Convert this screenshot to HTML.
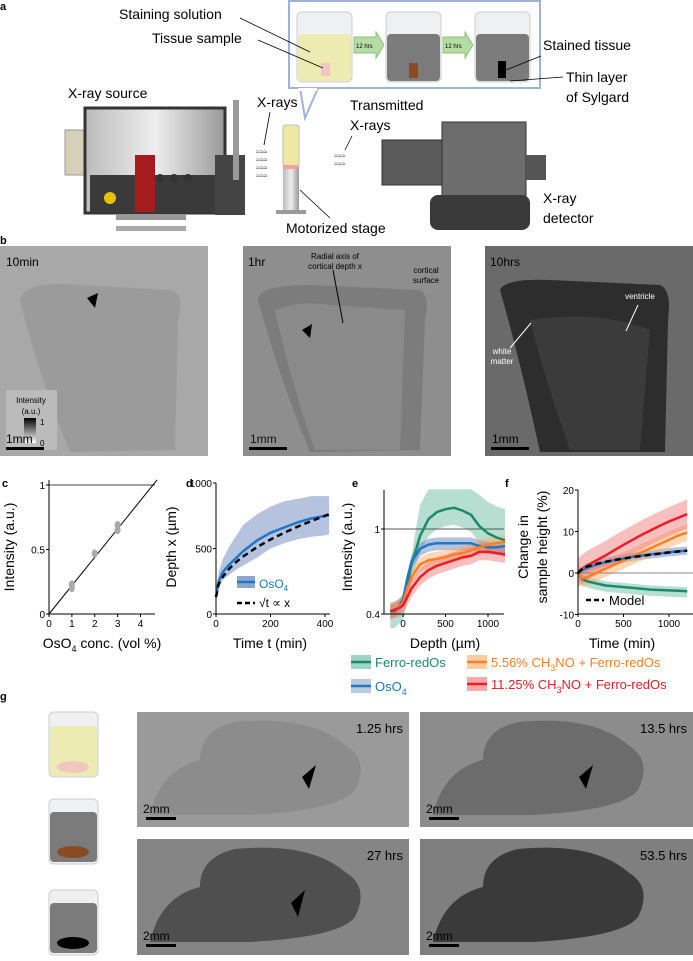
<!DOCTYPE html>
<html><head><meta charset="utf-8"><style>
body{margin:0;background:#fff;width:693px;height:956px;overflow:hidden;font-family:"Liberation Sans",sans-serif}
svg text{font-family:"Liberation Sans",sans-serif}
</style></head><body>
<svg id="fig" width="693" height="956" viewBox="0 0 693 956" xmlns="http://www.w3.org/2000/svg">
<defs>
<linearGradient id="cbar" x1="0" y1="0" x2="0" y2="1"><stop offset="0" stop-color="#000"/><stop offset="1" stop-color="#fff"/></linearGradient>
<linearGradient id="tube" x1="0" y1="0" x2="1" y2="0"><stop offset="0" stop-color="#bbb"/><stop offset=".5" stop-color="#eee"/><stop offset="1" stop-color="#999"/></linearGradient>
</defs>
<!-- panel a -->
<g>
<text x="0" y="10" font-size="11" font-weight="bold">a</text>
<rect x="289" y="1" width="251" height="87" fill="#fff" stroke="#9fb3d8" stroke-width="2"/>
<path d="M300 88 L305 118 L318 88" fill="#fff" stroke="#9fb3d8" stroke-width="2"/>
<rect x="298" y="88" width="19" height="3" fill="#fff"/>
<rect x="297" y="12" width="55" height="70" rx="5" fill="#eef0f2" stroke="#ccc"/>
<rect x="298" y="34" width="53" height="47" rx="4" fill="#ecebb2"/>
<rect x="321" y="63" width="9" height="13" fill="#f3c6c2"/>
<polygon points="354,37 376,37 376,32 384,45 376,58 376,53 354,53" fill="#b5dca3" stroke="#8bc27a"/><text x="356" y="48" font-size="6">12 hrs</text>
<rect x="386" y="12" width="55" height="70" rx="5" fill="#eef0f2" stroke="#ccc"/>
<rect x="387" y="34" width="53" height="47" rx="4" fill="#7b7b7b"/>
<rect x="409" y="63" width="9" height="15" fill="#8a4a22"/>
<polygon points="443,37 465,37 465,32 473,45 465,58 465,53 443,53" fill="#b5dca3" stroke="#8bc27a"/><text x="445" y="48" font-size="6">12 hrs</text>
<rect x="475" y="12" width="55" height="70" rx="5" fill="#eef0f2" stroke="#ccc"/>
<rect x="476" y="34" width="53" height="47" rx="4" fill="#7b7b7b"/>
<rect x="498" y="61" width="8" height="17" fill="#000"/>
<text x="119" y="19" font-size="14">Staining solution</text>
<line x1="240" y1="18" x2="310" y2="52" stroke="#000" stroke-width=".8"/>
<text x="152" y="43" font-size="14">Tissue sample</text>
<line x1="258" y1="40" x2="323" y2="68" stroke="#000" stroke-width=".8"/>
<text x="543" y="50" font-size="14">Stained tissue</text>
<line x1="541" y1="56" x2="506" y2="70" stroke="#000" stroke-width=".8"/>
<text x="566" y="82" font-size="14">Thin layer</text>
<text x="566" y="102" font-size="14">of Sylgard</text>
<line x1="563" y1="77" x2="510" y2="81" stroke="#000" stroke-width=".8"/>
<text x="68" y="98" font-size="14">X-ray source</text>
<text x="257" y="107" font-size="14">X-rays</text>
<line x1="270" y1="112" x2="264" y2="145" stroke="#000" stroke-width=".8"/>
<text x="350" y="110" font-size="14">Transmitted</text>
<text x="350" y="130" font-size="14">X-rays</text>
<line x1="352" y1="136" x2="345" y2="150" stroke="#000" stroke-width=".8"/>
<text x="286" y="233" font-size="14">Motorized stage</text>
<line x1="300" y1="190" x2="330" y2="218" stroke="#000" stroke-width=".8"/>
<text x="543" y="203" font-size="14">X-ray</text>
<text x="543" y="223" font-size="14">detector</text>
<!-- source -->
<rect x="65" y="130" width="30" height="45" fill="#d7d0b8" stroke="#999"/>
<rect x="85" y="108" width="140" height="105" fill="url(#tube)" stroke="#333" stroke-width="3"/>
<rect x="90" y="175" width="130" height="38" fill="#3a3a3a"/>
<rect x="135" y="155" width="20" height="57" fill="#a51c1c"/>
<circle cx="160" cy="178" r="4" fill="#333"/><circle cx="174" cy="178" r="4" fill="#333"/><circle cx="188" cy="178" r="4" fill="#333"/>
<circle cx="110" cy="198" r="6" fill="#e5c100"/>
<rect x="215" y="155" width="30" height="60" fill="#444"/>
<rect x="233" y="100" width="6" height="80" fill="#999"/>
<rect x="116" y="215" width="70" height="5" fill="#999"/><rect x="116" y="226" width="70" height="5" fill="#aaa"/>
<!-- waves -->
<text x="256" y="154" font-size="7" fill="#444">≈≈≈</text>
<text x="256" y="162" font-size="7" fill="#444">≈≈≈</text>
<text x="256" y="170" font-size="7" fill="#444">≈≈≈</text>
<text x="256" y="178" font-size="7" fill="#444">≈≈≈</text>
<text x="334" y="158" font-size="7" fill="#444">≈≈≈</text>
<text x="334" y="166" font-size="7" fill="#444">≈≈≈</text>
<!-- sample stage -->
<rect x="283" y="125" width="16" height="42" fill="#efe8a0" stroke="#bbb" rx="3"/>
<rect x="283" y="165" width="16" height="4" fill="#f3a0a0"/>
<rect x="283" y="169" width="16" height="41" fill="url(#tube)"/>
<rect x="276" y="210" width="30" height="4" fill="#999"/>
<!-- detector -->
<rect x="382" y="140" width="62" height="45" fill="#5b5b5b" stroke="#333"/>
<rect x="442" y="122" width="84" height="84" fill="#6d6d6d" stroke="#333"/>
<rect x="526" y="155" width="20" height="25" fill="#555"/>
<rect x="430" y="195" width="100" height="35" rx="8" fill="#3a3a3a"/>
</g>
<!-- panel b -->
<g>
<text x="0" y="244" font-size="11" font-weight="bold">b</text>
<rect x="0" y="246" width="208" height="210" fill="#a8a8a8"/>
<path d="M20 300 Q25 280 80 285 L170 290 Q185 292 178 320 L175 450 L70 452 Q40 380 20 300Z" fill="#9b9b9b"/>
<text x="6" y="266" font-size="12">10min</text>
<rect x="6" y="390" width="51" height="60" fill="#bbb"/>
<text x="31" y="403" font-size="8" text-anchor="middle">Intensity</text><text x="31" y="414" font-size="8" text-anchor="middle">(a.u.)</text>
<rect x="24" y="418" width="12" height="25" fill="url(#cbar)"/>
<text x="40" y="425" font-size="8">1</text><text x="40" y="446" font-size="8">0</text>
<polygon points="87,298 98,293 95,308" fill="#000"/>
<text x="6" y="443" font-size="12">1mm</text><rect x="6" y="447" width="38" height="3" fill="#000"/>
<rect x="243" y="246" width="208" height="210" fill="#8e8e8e"/>
<path d="M258 300 Q258 285 310 285 L420 290 Q430 295 425 320 L420 450 L310 452 Q280 380 258 300Z" fill="#7c7c7c"/>
<path d="M275 310 Q300 300 330 305 L405 310 L400 450 L315 450 Q290 380 275 310Z" fill="#8a8a8a"/>
<text x="248" y="266" font-size="12">1hr</text>
<text x="335" y="259" font-size="8" text-anchor="middle">Radial axis of</text>
<text x="335" y="269" font-size="8" text-anchor="middle">cortical depth x</text>
<text x="426" y="273" font-size="8" text-anchor="middle">cortical</text><text x="426" y="283" font-size="8" text-anchor="middle">surface</text>
<polygon points="302,330 312,324 310,338" fill="#000"/>
<line x1="333" y1="270" x2="343" y2="323" stroke="#000"/>
<text x="250" y="443" font-size="12" fill="#111">1mm</text><rect x="249" y="447" width="38" height="3" fill="#000"/>
<rect x="485" y="246" width="208" height="210" fill="#6a6a6a"/>
<path d="M500 290 Q505 278 550 280 L660 285 Q672 290 668 320 L665 452 L540 452 Q520 360 500 290Z" fill="#2d2d2d"/>
<path d="M530 320 Q600 310 650 330 L640 450 L570 450 Q545 380 530 320Z" fill="#3b3b3b"/>
<text x="490" y="266" font-size="12">10hrs</text>
<text x="640" y="299" font-size="8" fill="#fff" text-anchor="middle">ventricle</text>
<text x="502" y="354" font-size="8" fill="#fff" text-anchor="middle">white</text><text x="502" y="364" font-size="8" fill="#fff" text-anchor="middle">matter</text>
<line x1="510" y1="348" x2="531" y2="323" stroke="#fff"/><line x1="638" y1="305" x2="626" y2="331" stroke="#fff"/>
<text x="492" y="443" font-size="12">1mm</text><rect x="491" y="447" width="38" height="3" fill="#000"/>
</g>
<g id="charts"></g>
<!-- panel g -->
<g>
<text x="0" y="700" font-size="11" font-weight="bold">g</text>
<rect x="49" y="712" width="49" height="65" rx="5" fill="#eef0f2" stroke="#ccc"/><rect x="50" y="726" width="47" height="50" rx="4" fill="#ecebb2"/><ellipse cx="73" cy="767" rx="16" ry="6" fill="#f3c6c2"/>
<rect x="49" y="799" width="49" height="65" rx="5" fill="#eef0f2" stroke="#ccc"/><rect x="50" y="812" width="47" height="50" rx="4" fill="#7b7b7b"/><ellipse cx="73" cy="852" rx="16" ry="6" fill="#8a4a22"/>
<rect x="49" y="890" width="49" height="65" rx="5" fill="#eef0f2" stroke="#ccc"/><rect x="50" y="903" width="47" height="50" rx="4" fill="#7b7b7b"/><ellipse cx="73" cy="943" rx="16" ry="6" fill="#000"/>
<g><rect x="137" y="712" width="272" height="115" fill="#9a9a9a"/>
<path d="M150 815 Q160 770 200 760 Q200 730 235 722 Q310 715 345 745 Q370 760 355 790 Q340 810 250 815Z" fill="#8c8c8c"/>
<text x="403" y="733" font-size="13" text-anchor="end">1.25 hrs</text><text x="143" y="813" font-size="12">2mm</text><rect x="146" y="817" width="30" height="3" fill="#000"/><polygon points="302,777 316,765 309,789" fill="#000"/></g>
<g><rect x="420" y="712" width="273" height="115" fill="#8c8c8c"/>
<path d="M433 815 Q443 770 483 760 Q483 730 518 722 Q593 715 628 745 Q653 760 638 790 Q623 810 533 815Z" fill="#6c6c6c"/>
<text x="687" y="733" font-size="13" text-anchor="end">13.5 hrs</text><text x="426" y="813" font-size="12">2mm</text><rect x="429" y="817" width="30" height="3" fill="#000"/><polygon points="579,777 593,765 586,789" fill="#000"/></g>
<g><rect x="137" y="839" width="272" height="116" fill="#858585"/>
<path d="M150 942 Q160 897 200 887 Q200 857 235 849 Q310 842 345 872 Q370 887 355 917 Q340 937 250 942Z" fill="#4f4f4f"/>
<text x="403" y="860" font-size="13" text-anchor="end">27 hrs</text><text x="143" y="940" font-size="12">2mm</text><rect x="146" y="944" width="30" height="3" fill="#000"/><polygon points="291,903 305,890 298,917" fill="#000"/></g>
<g><rect x="420" y="839" width="273" height="116" fill="#7f7f7f"/>
<path d="M433 942 Q443 897 483 887 Q483 857 518 849 Q593 842 628 872 Q653 887 638 917 Q623 937 533 942Z" fill="#3a3a3a"/>
<text x="687" y="860" font-size="13" text-anchor="end">53.5 hrs</text><text x="426" y="940" font-size="12">2mm</text><rect x="429" y="944" width="30" height="3" fill="#000"/></g>
</g>
</svg>
<script>
const cConc=[1,1,2,3,3], cInt=[0.2,0.23,0.47,0.65,0.69], cSlope=0.22;
const cTicksX=[0,1,2,3,4], cTicksY=[0,0.5,1];
const dTime=[0,10,25,50,75,100,150,200,250,300,350,400,415];
const dMean=[130,250,320,380,430,480,560,620,660,700,730,750,755];
const dHi=[150,320,420,520,600,680,760,820,860,880,900,900,900];
const dLo=[120,200,260,300,340,370,430,500,540,570,590,600,610];
const dModelA=130, dModelB=31;
const dTicksX=[0,200,400], dTicksY=[0,500,1000];
const eDepth=[-150,-100,-50,0,50,100,200,300,400,500,600,700,800,900,1000,1100,1200];
const eGreen=[0.42,0.42,0.45,0.48,0.6,0.75,0.95,1.07,1.12,1.14,1.15,1.13,1.1,1.02,0.97,0.94,0.92];
const eBlue=[0.42,0.43,0.45,0.5,0.65,0.77,0.86,0.89,0.9,0.9,0.9,0.9,0.9,0.88,0.87,0.87,0.88];
const eOrange=[0.42,0.43,0.45,0.48,0.58,0.66,0.75,0.78,0.79,0.8,0.82,0.83,0.85,0.87,0.89,0.9,0.91];
const eRed=[0.42,0.43,0.44,0.46,0.52,0.58,0.66,0.71,0.74,0.76,0.78,0.8,0.81,0.84,0.84,0.83,0.82];
const eTicksX=[0,500,1000], eTicksY=[0.4,1];
const fTime=[0,50,100,200,300,400,500,600,700,800,900,1000,1100,1200];
const fGreen=[0,-1.5,-2,-2.5,-3,-3.2,-3.4,-3.6,-3.8,-4,-4.1,-4.2,-4.3,-4.4];
const fBlue=[0,0.7,1.2,2,2.6,3.1,3.5,3.9,4.2,4.5,4.7,5,5.2,5.4];
const fOrange=[0,-1.3,-1,0,1,2,3,4,5,6,7,8,9,9.7];
const fRed=[0,1,1.8,3,4.2,5.5,6.8,8,9.2,10.3,11.4,12.4,13.3,14.2];
const fTicksX=[0,500,1000], fTicksY=[-10,0,10,20];

const NS='http://www.w3.org/2000/svg', root=document.getElementById('charts');
function el(t,a,p){const e=document.createElementNS(NS,t);for(const k in a)e.setAttribute(k,a[k]);(p||root).appendChild(e);return e;}
function txt(x,y,s,a,p){const e=el('text',Object.assign({x:x,y:y,'font-size':13},a||{}),p);e.textContent=s;return e;}
function lin(d0,d1,r0,r1){return v=>r0+(v-d0)/(d1-d0)*(r1-r0);}
function pts(xs,ys,X,Y){return xs.map((v,i)=>X(v).toFixed(1)+','+Y(ys[i]).toFixed(1)).join(' ');}
function band(xs,lo,hi,X,Y,fill,name){const p=el('polygon',{points:pts(xs,hi,X,Y)+' '+pts(xs.slice().reverse(),lo.slice().reverse(),X,Y),fill:fill,opacity:0.45});

}
function line(xs,ys,X,Y,col,name,dash){const p=el('polyline',{points:pts(xs,ys,X,Y),fill:'none',stroke:col,'stroke-width':2.5});if(dash)p.setAttribute('stroke-dasharray',dash);

}
function axes(x0,x1,y0,y1,X,Y,tx,ty,name){const g=el('g',{});


el('line',{x1:x0,y1:y0,x2:x1,y2:y0,stroke:'#000','stroke-width':1},g);el('line',{x1:x0,y1:y0,x2:x0,y2:y1,stroke:'#000','stroke-width':1},g);
tx.forEach(v=>{el('line',{x1:X(v),y1:y0,x2:X(v),y2:y0+3,stroke:'#000'},g);txt(X(v),y0+13,String(v),{'font-size':10,'text-anchor':'middle'},g);});
ty.forEach(v=>{el('line',{x1:x0,y1:Y(v),x2:x0-3,y2:Y(v),stroke:'#000'},g);txt(x0-4,Y(v)+4,String(v),{'font-size':10,'text-anchor':'end'},g);});}
function ylabel(x,y,s){const t=txt(x,y,s,{'font-size':14,'text-anchor':'middle',transform:'rotate(-90 '+x+' '+y+')'});}
const B=614;
// c
txt(2,487,'c',{'font-size':11,'font-weight':'bold'});
{const X=lin(0,4,49,140.5),Y=lin(0,1,B,485);
el('line',{x1:49,y1:485,x2:155,y2:485,stroke:'#444'});
const fl=el('line',{x1:X(0),y1:Y(0),x2:X(1.04/cSlope),y2:Y(1.04),stroke:'#000'});


cConc.forEach((c,i)=>{const e=el('ellipse',{cx:X(c),cy:Y(cInt[i]),rx:3,ry:4,fill:'#aaa'});

});
axes(49,155,B,480,X,Y,cTicksX,cTicksY,'axes-c');
ylabel(14,547,'Intensity (a.u.)');
const t=txt(102,648,'OsO',{'font-size':14,'text-anchor':'middle'});t.innerHTML='OsO<tspan font-size="9" dy="4">4</tspan><tspan dy="-4"> conc. (vol %)</tspan>';}
// d
txt(186,487,'d',{'font-size':11,'font-weight':'bold'});
{const X=lin(0,400,216,325),Y=lin(0,1000,B,483);
band(dTime,dLo,dHi,X,Y,'#5a7bb5','band-osO4');
line(dTime,dMean,X,Y,'#1f77c8','line-osO4');
line(dTime,dTime.map(v=>dModelA+dModelB*Math.sqrt(v)),X,Y,'#000','model-sqrt','6,4');
axes(216,330,B,483,X,Y,dTicksX,dTicksY,'axes-d');
ylabel(176,547,'Depth x (µm)');
txt(270,648,'Time t (min)',{'font-size':14,'text-anchor':'middle'});
el('rect',{x:237,y:576,width:18,height:12,fill:'#8fa6cc'});el('line',{x1:237,y1:582,x2:255,y2:582,stroke:'#1f77c8','stroke-width':2.5});
const t=txt(259,588,'',{'font-size':12,fill:'#1f77c8'});t.innerHTML='OsO<tspan font-size="8" dy="3">4</tspan>';
el('line',{x1:237,y1:603,x2:255,y2:603,stroke:'#000','stroke-width':2.5,'stroke-dasharray':'5,3'});
txt(259,607,'√t ∝ x',{'font-size':12});}
// e
txt(352,487,'e',{'font-size':11,'font-weight':'bold'});
{const X=lin(0,1000,403,488),Y=lin(0.4,1,B,529),d=eDepth;
const clip=v=>Math.min(v,1.28);
band(d,eGreen.map(v=>v-0.12),eGreen.map((v,i)=>clip(v+(i>5?0.22:0.06))),X,Y,'#5fb89a','band-ferro');
band(d,eBlue.map(v=>v-0.05),eBlue.map(v=>v+0.04),X,Y,'#5a7bb5','band-osO4-e');
band(d,eOrange.map(v=>v-0.05),eOrange.map(v=>v+0.05),X,Y,'#ffa860','band-orange');
band(d,eRed.map(v=>v-0.06),eRed.map(v=>v+0.06),X,Y,'#f07070','band-red');
el('line',{x1:384,y1:Y(1),x2:504,y2:Y(1),stroke:'#555'});
line(d,eGreen,X,Y,'#1b8a6b','line-ferro');line(d,eBlue,X,Y,'#1f77c8','line-osO4-e');
line(d,eOrange,X,Y,'#ff7f27','line-orange');line(d,eRed,X,Y,'#ee1c25','line-red');
axes(384,504,B,490,X,Y,eTicksX,eTicksY,'axes-e');
ylabel(352,547,'Intensity (a.u.)');
txt(445,648,'Depth (µm)',{'font-size':14,'text-anchor':'middle'});}
// f
txt(505,487,'f',{'font-size':11,'font-weight':'bold'});
{const X=lin(0,1000,578,669),Y=lin(0,20,573,490),t=fTime;
band(t,fGreen.map(v=>v-1.5),fGreen.map(v=>v+1),X,Y,'#5fb89a','band-ferro-f');
band(t,fBlue.map(v=>v-1),fBlue.map(v=>v+1),X,Y,'#5a7bb5','band-osO4-f');
band(t,fOrange.map(v=>v-2),fOrange.map(v=>v+2),X,Y,'#ffa860','band-orange-f');
band(t,fRed.map(v=>v-3.5),fRed.map(v=>v+3.5),X,Y,'#f07070','band-red-f');
el('line',{x1:578,y1:Y(0),x2:693,y2:Y(0),stroke:'#888'});
line(t,fGreen,X,Y,'#1b8a6b','line-ferro-f');line(t,fOrange,X,Y,'#ff7f27','line-orange-f');
line(t,fRed,X,Y,'#ee1c25','line-red-f');line(t,fBlue,X,Y,'#1f77c8','line-osO4-f');
line(t,t.map(v=>5.4*Math.sqrt(v/1200)),X,Y,'#000','model-f','6,4');
axes(578,693,B,490,X,Y,fTicksX,fTicksY,'axes-f');
ylabel(528,547,'Change in');ylabel(547,547,'sample height (%)');
txt(622,648,'Time (min)',{'font-size':14,'text-anchor':'middle'});
el('line',{x1:586,y1:600,x2:604,y2:600,stroke:'#000','stroke-width':2.5,'stroke-dasharray':'5,3'});
txt(609,605,'Model',{'font-size':13});}
// legend
{const L=el('g',{});


function entry(x,y,bc,lc,html){el('rect',{x:x,y:y-7,width:20,height:14,fill:bc,opacity:0.6},L);el('line',{x1:x,y1:y,x2:x+20,y2:y,stroke:lc,'stroke-width':2.5},L);const t=txt(x+24,y+5,'',{'font-size':13,fill:lc},L);t.innerHTML=html;}
entry(351,662,'#5fb89a','#1b8a6b','Ferro-redOs');
entry(351,686,'#8fa6cc','#1f77c8','OsO<tspan font-size="9" dy="4">4</tspan>');
entry(467,662,'#ffa860','#ff7f27','5.56% CH<tspan font-size="9" dy="4">3</tspan><tspan dy="-4">NO  + Ferro-redOs</tspan>');
entry(467,684,'#f07070','#ee1c25','11.25% CH<tspan font-size="9" dy="4">3</tspan><tspan dy="-4">NO + Ferro-redOs</tspan>');}
</script>
</body></html>
